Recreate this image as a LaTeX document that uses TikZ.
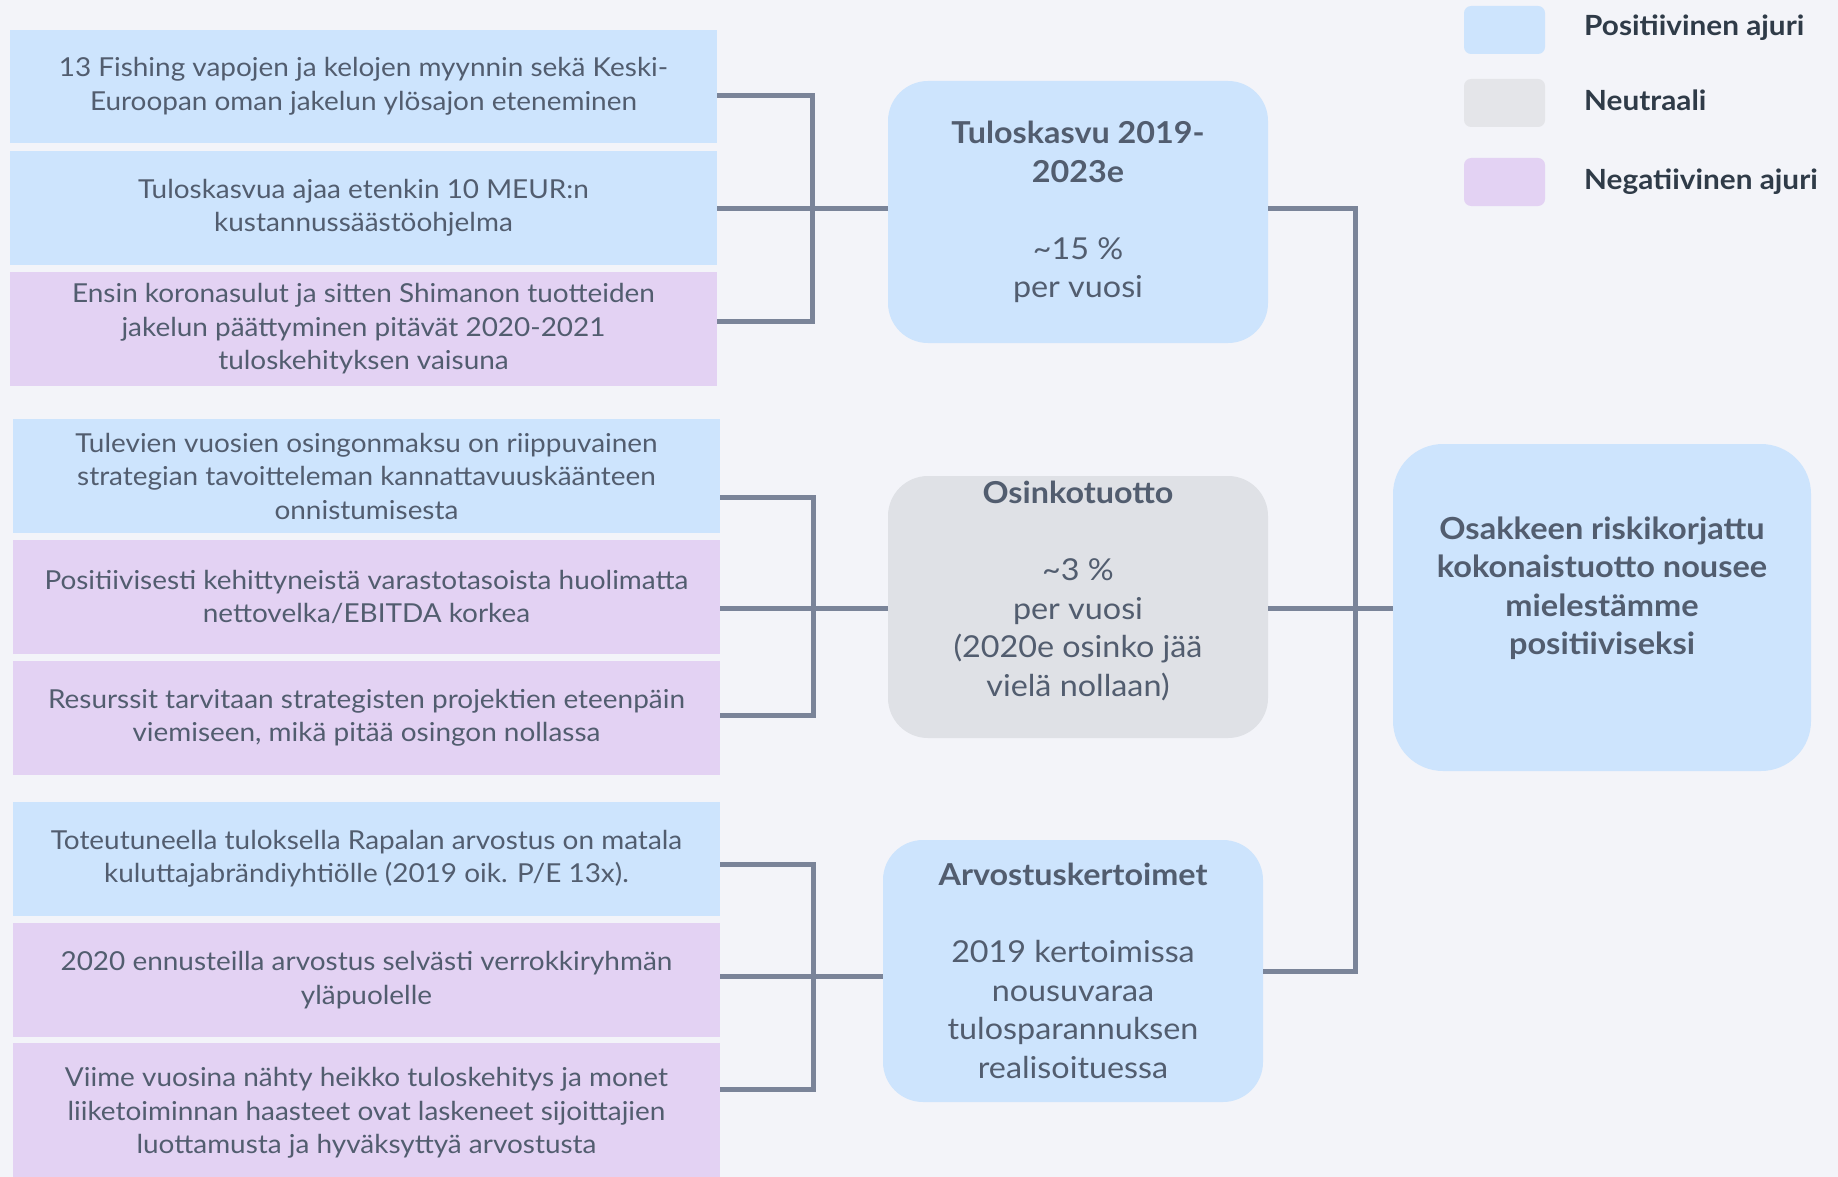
\documentclass[tikz,border=0pt]{standalone}
\usepackage{fontspec}
\setmainfont{Lato}[FakeStretch=1.07]
\definecolor{bgc}{HTML}{F3F4F9}
\definecolor{posc}{HTML}{CDE4FD}
\definecolor{neuc}{HTML}{DFE1E6}
\definecolor{legneu}{HTML}{E4E5E9}
\definecolor{negc}{HTML}{E3D2F3}
\definecolor{linec}{HTML}{7A8499}
\definecolor{txtc}{HTML}{525D6F}
\definecolor{legtxt}{HTML}{2F3B48}
\tikzset{
  leftbox/.style={draw=none, minimum width=707pt, inner sep=0pt, align=center,
    text=txtc, font=\fontsize{26.1}{33.5}\selectfont},
  bigbox/.style={draw=none, rounded corners=40pt, minimum width=380pt, minimum height=262pt, inner sep=0pt},
  bigtext/.style={align=center, text=txtc, inner sep=0pt, font=\fontsize{30.2}{38.5}\selectfont},
  legbox/.style={rounded corners=7pt, minimum width=81pt, minimum height=48pt, inner sep=0pt},
  legtext/.style={anchor=west, inner sep=0pt, text=legtxt, font=\fontsize{27.8}{34}\selectfont\bfseries},
  conn/.style={draw=linec, line width=5pt, line join=miter}
}
\begin{document}
\begin{tikzpicture}[x=1pt,y=-1pt]
\useasboundingbox (0,0) rectangle (1838,1177);
\fill[bgc] (0,0) rectangle (1838,1177);
\begin{scope}
\clip (0,0) rectangle (1838,1177);
% group 1
\node[leftbox, fill=posc, minimum height=113pt] (a1) at (363.5,86.5)
  {13 Fishing vapojen ja kelojen myynnin sekä Keski-\\Euroopan oman jakelun ylösajon eteneminen};
\node[leftbox, fill=posc, minimum height=114pt] (a2) at (363.5,208)
  {Tuloskasvua ajaa etenkin 10 MEUR:n\\kustannussäästöohjelma};
\node[leftbox, fill=negc, minimum height=114pt] (a3) at (363.5,329)
  {Ensin koronasulut ja sitten Shimanon tuotteiden\\jakelun päättyminen pitävät 2020-2021\\tuloskehityksen vaisuna};
% group 2
\node[leftbox, fill=posc, minimum height=114pt] (b1) at (366.5,476)
  {Tulevien vuosien osingonmaksu on riippuvainen\\strategian tavoitteleman kannattavuuskäänteen\\onnistumisesta};
\node[leftbox, fill=negc, minimum height=114pt] (b2) at (366.5,597)
  {Positiivisesti kehittyneistä varastotasoista huolimatta\\nettovelka/EBITDA korkea};
\node[leftbox, fill=negc, minimum height=114pt] (b3) at (366.5,718)
  {Resurssit tarvitaan strategisten projektien eteenpäin\\viemiseen, mikä pitää osingon nollassa};
% group 3
\node[leftbox, fill=posc, minimum height=114pt] (c1) at (366.5,859)
  {Toteutuneella tuloksella Rapalan arvostus on matala\\kuluttajabrändiyhtiölle (2019 oik. P/E 13x).};
\node[leftbox, fill=negc, minimum height=114pt] (c2) at (366.5,980)
  {2020 ennusteilla arvostus selvästi verrokkiryhmän\\yläpuolelle};
\node[leftbox, fill=negc, minimum height=140pt] (c3) at (366.5,1113)
  {Viime vuosina nähty heikko tuloskehitys ja monet\\liiketoiminnan haasteet ovat laskeneet sijoittajien\\luottamusta ja hyväksyttyä arvostusta};
\end{scope}
% middle boxes
\node[bigbox, fill=posc] (T) at (1078,212) {};
\node[bigtext] (Tt) at (1078,212) {\textbf{Tuloskasvu 2019-}\\\textbf{2023e}\\[38.5pt]\textasciitilde15 \%\\per vuosi};
\node[bigbox, fill=neuc] (O) at (1078,607) {};
\node[bigtext] (Ot) at (1078,591) {\textbf{Osinkotuotto}\\[38.5pt]\textasciitilde3 \%\\per vuosi\\(2020e osinko jää\\vielä nollaan)};
\node[bigbox, fill=posc] (A) at (1073,971) {};
\node[bigtext] (At) at (1073,971) {\textbf{Arvostuskertoimet}\\[38.5pt]2019 kertoimissa\\nousuvaraa\\tulosparannuksen\\realisoituessa};
% result box
\node[draw=none, fill=posc, rounded corners=50pt, minimum width=418pt, minimum height=327pt, inner sep=0pt] (R) at (1602,607.5) {};
\node[bigtext, font=\fontsize{30.4}{38.5}\selectfont\bfseries] (Rt) at (1602,588)
  {Osakkeen riskikorjattu\\kokonaistuotto nousee\\mielestämme\\positiiviseksi};
% legend
\node[legbox, fill=posc] (L1) at (1504.5,30) {};
\node[legbox, fill=legneu] (L2) at (1504.5,103) {};
\node[legbox, fill=negc] (L3) at (1504.5,182) {};
\node[legtext] (L1t) at (1584,28) {Positiivinen ajuri};
\node[legtext] (L2t) at (1584,100) {Neutraali};
\node[legtext] (L3t) at (1584,182) {Negatiivinen ajuri};
% junctions
\coordinate (j1) at (812,208);
\coordinate (j2) at (813,608);
\coordinate (j3) at (813,976);
\coordinate (jR) at (1355,608);
% connectors group 1
\draw[conn] ([yshift=-9.5pt]a1.east) -| (j1);
\draw[conn] ([yshift=8pt]a3.east) -| (j1);
\draw[conn] (a2.east) -- (T.west |- j1);
% connectors group 2
\draw[conn] ([yshift=-21pt]b1.east) -| (j2);
\draw[conn] ([yshift=3pt]b3.east) -| (j2);
\draw[conn] ([yshift=-11pt]b2.east) -- (O.west |- j2);
% connectors group 3
\draw[conn] ([yshift=-5pt]c1.east) -| (j3);
\draw[conn] ([yshift=24pt]c3.east) -| (j3);
\draw[conn] ([yshift=4pt]c2.east) -- (A.west |- j3);
% right side
\draw[conn] (T.east |- j1) -| (jR);
\draw[conn] (A.east) -| (jR);
\draw[conn] (O.east |- jR) -- (R.west |- jR);
\end{tikzpicture}
\end{document}
